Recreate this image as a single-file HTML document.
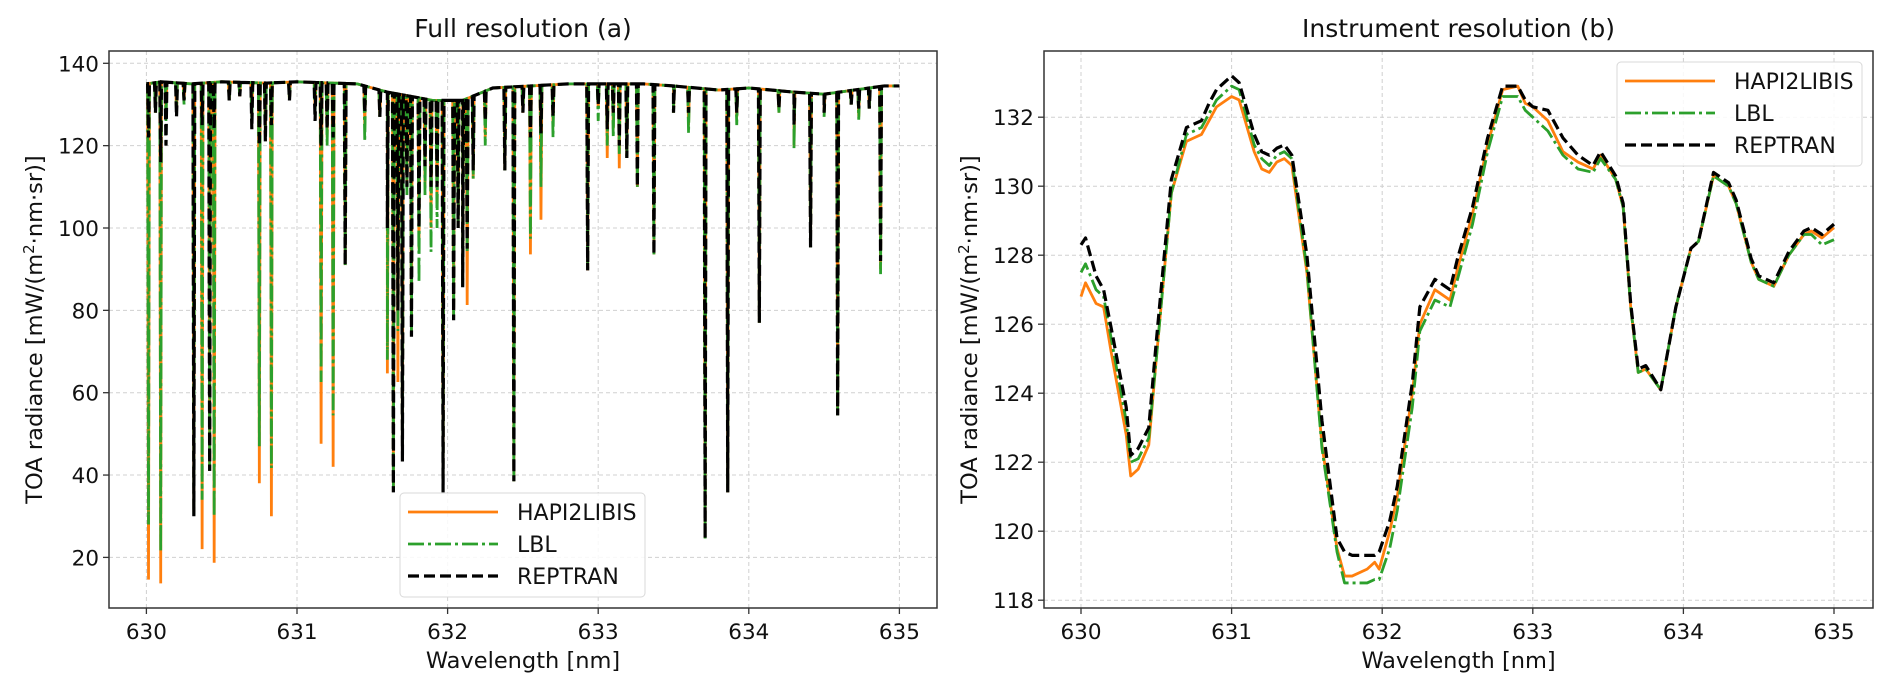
<!DOCTYPE html>
<html><head><meta charset="utf-8"><style>
body{margin:0;background:#fff;}
svg{display:block;font-family:"DejaVu Sans","Liberation Sans",sans-serif;}
</style></head><body>
<svg id="fig" width="1892" height="692" viewBox="0 0 1892 692"></svg>
<script>
// ---------- Panel (a) data ----------
const baseX = [630.0,630.1,630.3,630.5,630.8,631.0,631.4,631.6,631.9,632.1,632.3,632.8,633.3,633.5,633.8,634.0,634.3,634.5,634.9,635.0];
const baseY = [135,135.5,135,135.5,135.2,135.5,135,133,131,131,134,135,135,134.5,133.5,134,133,132.5,134.5,134.5];
const linePos = [630.014,630.06,630.095,630.13,630.2,630.25,630.315,630.37,630.42,630.45,630.55,630.62,630.7,630.75,630.79,630.83,630.95,631.12,631.16,631.2,631.24,631.32,631.45,631.55,631.6,631.64,631.67,631.7,631.73,631.76,631.81,631.85,631.89,631.93,631.97,632.04,632.07,632.1,632.13,632.17,632.25,632.38,632.44,632.5,632.55,632.62,632.7,632.93,633.0,633.06,633.1,633.14,633.19,633.26,633.37,633.5,633.6,633.71,633.86,633.92,634.07,634.2,634.3,634.41,634.5,634.59,634.68,634.73,634.8,634.875];
const lineHapi = [14.6,128,13.7,127,128,131,31,22,41,18.7,131,132,127,38,123,30,131,129,47.6,122,42,91,125,127,64.7,36,62.6,44,110,74,95,110,100,105,36,78,100,86,81.3,112,122,114,38.5,128,93.6,102,125,89.7,129,117,124,114.5,117,110,93.6,128,125,24.6,35.8,127,77,128,120,95.3,128,54.5,130,127,129,90];
const lineLbl = [28,128,21.5,126,128,130,30,34,41,30,131,132,126,47,123,41.7,131,128,62.6,120,54.5,91,121,127,68,36,75,44,108,74,86.7,108,94.2,100,36,78,100,86,94,112,120,114,38.5,128,97.4,110,122,89.7,126,120,122,118,117,110,93.6,128,123,24.6,35.8,125,77,128,119.3,95.3,127,54.5,130,126.3,129,88.8];
const lineRep = [122,128,116,120,127,131,30,125,41,124,131,132,124,120,121,125,131,126,120,124,122,91,128,127,100,35.8,80,43.3,110,73.6,100,115,110,110,35.8,77.6,100,85.6,95,114,126,114,38.5,128,122,123,127,89.7,130,124,128,120,117,110,93.6,128,128,24.6,35.8,128,77,129,125,95.3,128,54.5,130,129,129,92];
const aYTicks = [20,40,60,80,100,120,140];
const xTickLabels = [630,631,632,633,634,635];

// ---------- Panel (b) data ----------
const bX = [630.0,630.03,630.1,630.15,630.2,630.3,630.33,630.38,630.45,630.5,630.6,630.7,630.75,630.8,630.85,630.9,631.0,631.05,631.15,631.2,631.25,631.3,631.35,631.4,631.5,631.6,631.7,631.75,631.8,631.9,631.95,631.98,632.05,632.1,632.2,632.25,632.35,632.45,632.5,632.6,632.7,632.8,632.9,632.95,633.0,633.1,633.2,633.3,633.4,633.45,633.55,633.6,633.65,633.7,633.75,633.85,633.95,634.05,634.1,634.2,634.3,634.35,634.45,634.5,634.6,634.7,634.8,634.85,634.92,635.0];
const bHapi = [126.8,127.2,126.6,126.5,125.2,122.8,121.6,121.8,122.5,125.0,129.8,131.3,131.4,131.5,131.9,132.3,132.6,132.5,131.0,130.5,130.4,130.7,130.8,130.6,127.5,122.5,119.5,118.7,118.7,118.9,119.1,118.9,120.0,121.0,124.0,126.0,127.0,126.7,127.6,129.2,131.2,132.8,132.9,132.4,132.3,131.9,131.0,130.7,130.5,130.9,130.2,129.4,126.5,124.6,124.7,124.1,126.5,128.2,128.4,130.3,130.0,129.5,127.8,127.3,127.1,128.0,128.6,128.7,128.5,128.8];
const bLbl = [127.5,127.75,127.0,126.8,125.6,123.2,122.0,122.1,122.7,125.0,129.8,131.5,131.6,131.7,132.1,132.5,132.9,132.8,131.2,130.8,130.6,130.9,131.0,130.8,127.6,122.4,119.4,118.5,118.5,118.5,118.6,118.6,119.5,120.6,123.6,125.8,126.7,126.5,127.3,128.9,131.0,132.6,132.6,132.2,132.0,131.6,130.9,130.5,130.4,130.8,130.2,129.4,126.5,124.6,124.7,124.1,126.5,128.2,128.4,130.3,130.0,129.5,127.8,127.3,127.1,128.0,128.6,128.6,128.3,128.45];
const bRep = [128.3,128.5,127.4,127.0,125.9,123.6,122.2,122.4,123.0,125.5,130.2,131.7,131.8,131.9,132.4,132.8,133.2,133.0,131.5,131.0,130.9,131.1,131.2,130.9,128.0,123.2,119.8,119.4,119.3,119.3,119.3,119.4,120.3,121.3,124.3,126.5,127.3,127.0,127.9,129.4,131.4,132.9,132.9,132.5,132.3,132.2,131.4,130.9,130.6,131.0,130.3,129.5,126.6,124.7,124.8,124.1,126.5,128.2,128.4,130.4,130.1,129.6,127.9,127.4,127.2,128.1,128.7,128.8,128.6,128.9];
const bYTicks = [118,120,122,124,126,128,130,132];

// ---------- helpers ----------
const NS = "http://www.w3.org/2000/svg";
const fig = document.getElementById('fig');
function mk(tag, attrs, parent){const e=document.createElementNS(NS,tag);for(const k in attrs)e.setAttribute(k,attrs[k]);(parent||fig).appendChild(e);return e;}
function interp(xs,ys,x){for(let i=0;i<xs.length-1;i++){if(x<=xs[i+1]){const t=(x-xs[i])/(xs[i+1]-xs[i]);return ys[i]+t*(ys[i+1]-ys[i]);}}return ys[ys.length-1];}

const COL = {h:'#ff7f0e', l:'#2ca02c', r:'#000000'};
const STY = {
  h:{stroke:COL.h,'stroke-width':2.8,fill:'none'},
  l:{stroke:COL.l,'stroke-width':2.8,fill:'none','stroke-dasharray':'16,4,3,4'},
  r:{stroke:COL.r,'stroke-width':3.2,fill:'none','stroke-dasharray':'11,5'}
};

function axes(cfg){
  const {L,R,T,B,y0,px0,py0,yTicks,title,name}=cfg;
  const g = mk('g',{});
  
  
  const sx = v => px0 + (v-630)*150.6;
  const sy = v => py0 - (v-y0)*cfg.ppu;
  xTickLabels.forEach(t=>{
    const x=sx(t);
    const gl=mk('line',{x1:x,x2:x,y1:T,y2:B,stroke:'#d0d0d0','stroke-width':1,'stroke-dasharray':'4,3'},g);
    
    
    mk('line',{x1:x,x2:x,y1:B,y2:B+6,stroke:'#333','stroke-width':1.3},g);
    const tl=mk('text',{x:x,y:B+31,'font-size':21.5,'text-anchor':'middle',fill:'#111'},g);
    tl.textContent=t;
    
    
  });
  yTicks.forEach(t=>{
    const y=sy(t);
    const gl=mk('line',{x1:L,x2:R,y1:y,y2:y,stroke:'#d0d0d0','stroke-width':1,'stroke-dasharray':'4,3'},g);
    
    
    mk('line',{x1:L-6,x2:L,y1:y,y2:y,stroke:'#333','stroke-width':1.3},g);
    const tl=mk('text',{x:L-10,y:y+8,'font-size':21.5,'text-anchor':'end',fill:'#111'},g);
    tl.textContent=t;
    
    
  });
  const clip = mk('clipPath',{id:'clip-'+name},g);
  mk('rect',{x:L,y:T,width:R-L,height:B-T},clip);
  const plot = mk('g',{'clip-path':'url(#clip-'+name+')'},g);
  
  
  const fr=mk('rect',{x:L,y:T,width:R-L,height:B-T,fill:'none',stroke:'#333','stroke-width':1.5},g);
  
  
  const ti=mk('text',{x:(L+R)/2,y:T-14,'font-size':25,'text-anchor':'middle',fill:'#111'},g);
  ti.textContent=title;
  
  
  const xl=mk('text',{x:(L+R)/2,y:668,'font-size':22.5,'text-anchor':'middle',fill:'#111'},g);
  xl.textContent='Wavelength [nm]';
  
  
  const ycx=cfg.ylx, ycy=(T+B)/2;
  const yl=mk('text',{x:ycx,y:ycy,'font-size':22.5,'text-anchor':'middle',fill:'#111',transform:`rotate(-90 ${ycx} ${ycy})`},g);
  yl.innerHTML='TOA radiance [mW/(m<tspan dy="-8" font-size="15">2</tspan><tspan dy="8">·nm·sr)]</tspan>';
  
  
  return {g,plot,sx,sy};
}

function legend(g,x,y){
  const lg=mk('g',{},g);
  
  
  mk('rect',{x:x,y:y,width:245,height:104,rx:4,fill:'#fff','fill-opacity':0.85,stroke:'#d8d8d8','stroke-width':1},lg);
  const items=[['h','HAPI2LIBIS'],['l','LBL'],['r','REPTRAN']];
  items.forEach((it,i)=>{
    const yy=y+19+i*32;
    const ent=mk('g',{},lg);
    
    
    mk('line',Object.assign({x1:x+8,x2:x+98,y1:yy,y2:yy},STY[it[0]]),ent);
    const t=mk('text',{x:x+117,y:yy+8,'font-size':22,fill:'#111'},ent);
    t.textContent=it[1];
  });
}

// ---------- Panel (a) ----------
const A = axes({name:'panel-a',L:109,R:937,T:51,B:608,y0:20,px0:146.4,py0:557.4,ppu:82.35/20,yTicks:aYTicks,title:'Full resolution (a)',ylx:42});
function spectrumPath(vals){
  const w=0.006;
  const events=[];
  baseX.forEach((x,i)=>events.push([x,baseY[i]]));
  linePos.forEach((p,i)=>{
    events.push([p-w,interp(baseX,baseY,p-w)]);
    events.push([p,vals[i]]);
    events.push([p+w,interp(baseX,baseY,p+w)]);
  });
  events.sort((a,b)=>a[0]-b[0]);
  return events.map((e,i)=>(i?'L':'M')+A.sx(e[0]).toFixed(2)+','+A.sy(e[1]).toFixed(2)).join(' ');
}
[['h',lineHapi,'series-hapi2libis'],['l',lineLbl,'series-lbl'],['r',lineRep,'series-reptran']].forEach(s=>{
  const p=mk('path',Object.assign({d:spectrumPath(s[1]),'stroke-linejoin':'miter'},STY[s[0]]),A.plot);
  
  
});
legend(A.g,400,493);

// ---------- Panel (b) ----------
const B = axes({name:'panel-b',L:1044,R:1873,T:51,B:608,y0:118,px0:1081,py0:600.2,ppu:34.5,yTicks:bYTicks,title:'Instrument resolution (b)',ylx:977});
[['h',bHapi,'series-hapi2libis'],['l',bLbl,'series-lbl'],['r',bRep,'series-reptran']].forEach(s=>{
  const d=bX.map((x,i)=>(i?'L':'M')+B.sx(x).toFixed(2)+','+B.sy(s[1][i]).toFixed(2)).join(' ');
  const p=mk('path',Object.assign({d:d,'stroke-linejoin':'round'},STY[s[0]]),B.plot);
  
  
});
legend(B.g,1617,62);
</script>
</body></html>
